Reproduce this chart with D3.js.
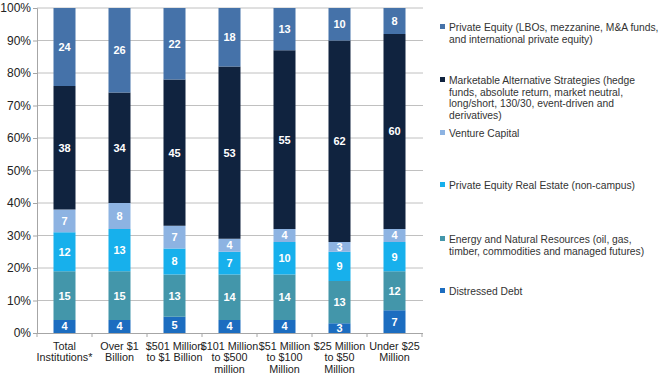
<!DOCTYPE html>
<html><head><meta charset="utf-8">
<script src="https://cdn.jsdelivr.net/npm/d3@7"></script>
<style>body{margin:0;background:#fff}svg{display:block}text{font-family:"Liberation Sans",Arial,sans-serif}</style>
</head><body><svg id="c" width="670" height="376"></svg>
<script>
const categories = [["Total","Institutions*"],["Over $1","Billion"],["$501 Million","to $1 Billion"],["$101 Million","to $500","million"],["$51 Million","to $100","Million"],["$25 Million","to $50","Million"],["Under $25","Million"]];
const seriesNames = ["Distressed Debt","Energy and Natural Resources","Private Equity Real Estate","Venture Capital","Marketable Alternative Strategies","Private Equity"];
const distressed = [4,4,5,4,4,3,7];
const energy = [15,15,13,14,14,13,12];
const realEstate = [12,13,8,7,10,9,9];
const venture = [7,8,7,4,4,3,4];
const marketable = [38,34,45,53,55,62,60];
const privateEquity = [24,26,22,18,13,10,8];
const yTicks = [0,10,20,30,40,50,60,70,80,90,100];
const legendItems = [
  ["Private Equity (LBOs, mezzanine, M&A funds,","and international private equity)"],
  ["Marketable Alternative Strategies (hedge","funds, absolute return, market neutral,","long/short, 130/30, event-driven and","derivatives)"],
  ["Venture Capital"],
  ["Private Equity Real Estate (non-campus)"],
  ["Energy and Natural Resources (oil, gas,","timber, commodities and managed futures)"],
  ["Distressed Debt"]
];
const colors = ["#1c6dc0","#4396aa","#17b0ec","#8db3e2","#10233f","#4572a9"];
const seriesData = [distressed, energy, realEstate, venture, marketable, privateEquity];

const svg = d3.select("#c");
const L = 37, R = 422, T = 8, B = 333;
const x = d3.scaleBand().domain(d3.range(categories.length)).range([L, R]).paddingInner(0.6).paddingOuter(0.3);
const y = d3.scaleLinear().domain([0, 100]).range([B, T]);

// gridlines
svg.append("g").selectAll("line").data(yTicks.filter(d=>d>0)).join("line")
  .attr("x1", L).attr("x2", R+1).attr("y1", d=>y(d)).attr("y2", d=>y(d))
  .attr("stroke", "#c0c0c0").attr("stroke-width", 1);

// y axis
const yAxis = svg.append("g").attr("transform", `translate(${L},0)`)
  .call(d3.axisLeft(y).tickValues(yTicks).tickFormat(d=>d+"%").tickSize(4).tickPadding(2));
yAxis.select(".domain").attr("stroke", "#a6a6a6");
yAxis.selectAll(".tick line").attr("stroke", "#a6a6a6");
yAxis.selectAll("text").attr("font-size", 12).attr("fill", "#222");

// stacked bars
const stackRows = categories.map((c,i)=>{ const o={i}; seriesNames.forEach((s,k)=>o[s]=seriesData[k][i]); return o; });
const stacked = d3.stack().keys(seriesNames)(stackRows);
const g = svg.append("g");
stacked.forEach((layer,k)=>{
  const lg = g.append("g");
  lg.selectAll("rect").data(layer).join("rect")
    .attr("x", d=>x(d.data.i)).attr("width", x.bandwidth())
    .attr("y", d=>y(d[1])).attr("height", d=>y(d[0])-y(d[1]))
    .attr("fill", colors[k]);
  lg.selectAll("text").data(layer).join("text")
    .attr("x", d=>x(d.data.i)+x.bandwidth()/2).attr("y", d=>(y(d[0])+y(d[1]))/2)
    .attr("dy", "0.36em").attr("text-anchor", "middle")
    .attr("font-size", 11).attr("font-weight", "bold").attr("fill", "#fff")
    .text(d=>d[1]-d[0]);
});

// x axis
svg.append("line").attr("x1", L).attr("x2", R+1).attr("y1", B+0.5).attr("y2", B+0.5).attr("stroke", "#a6a6a6");
svg.append("g").selectAll("line").data(d3.range(categories.length+1)).join("line")
  .attr("x1", i=>L + i*(R-L)/categories.length).attr("x2", i=>L + i*(R-L)/categories.length)
  .attr("y1", B).attr("y2", B+4).attr("stroke", "#a6a6a6");
const xl = svg.append("g");
categories.forEach((lines,i)=>{
  const cx = x(i)+x.bandwidth()/2;
  const t = xl.append("text").attr("text-anchor","middle").attr("font-size",10.8).attr("fill","#222")
    .attr("x", cx).attr("y", 350);
  lines.forEach((ln,j)=>t.append("tspan").attr("x", cx).attr("y", 350 + j*11.3).text(ln));
});

// legend
const legendY = [27, 80, 133, 185, 239, 291];
const lgd = svg.append("g");
legendItems.forEach((lines,k)=>{
  const ci = 5 - k;
  lgd.append("rect").attr("x", 440).attr("y", legendY[k]-3).attr("width", 5).attr("height", 5).attr("fill", colors[ci]);
  const t = lgd.append("text").attr("font-size", 10.3).attr("fill", "#333");
  lines.forEach((ln,j)=>t.append("tspan").attr("x", 449).attr("y", legendY[k] + 3.8 + j*11.7).text(ln));
});
</script></body></html>
